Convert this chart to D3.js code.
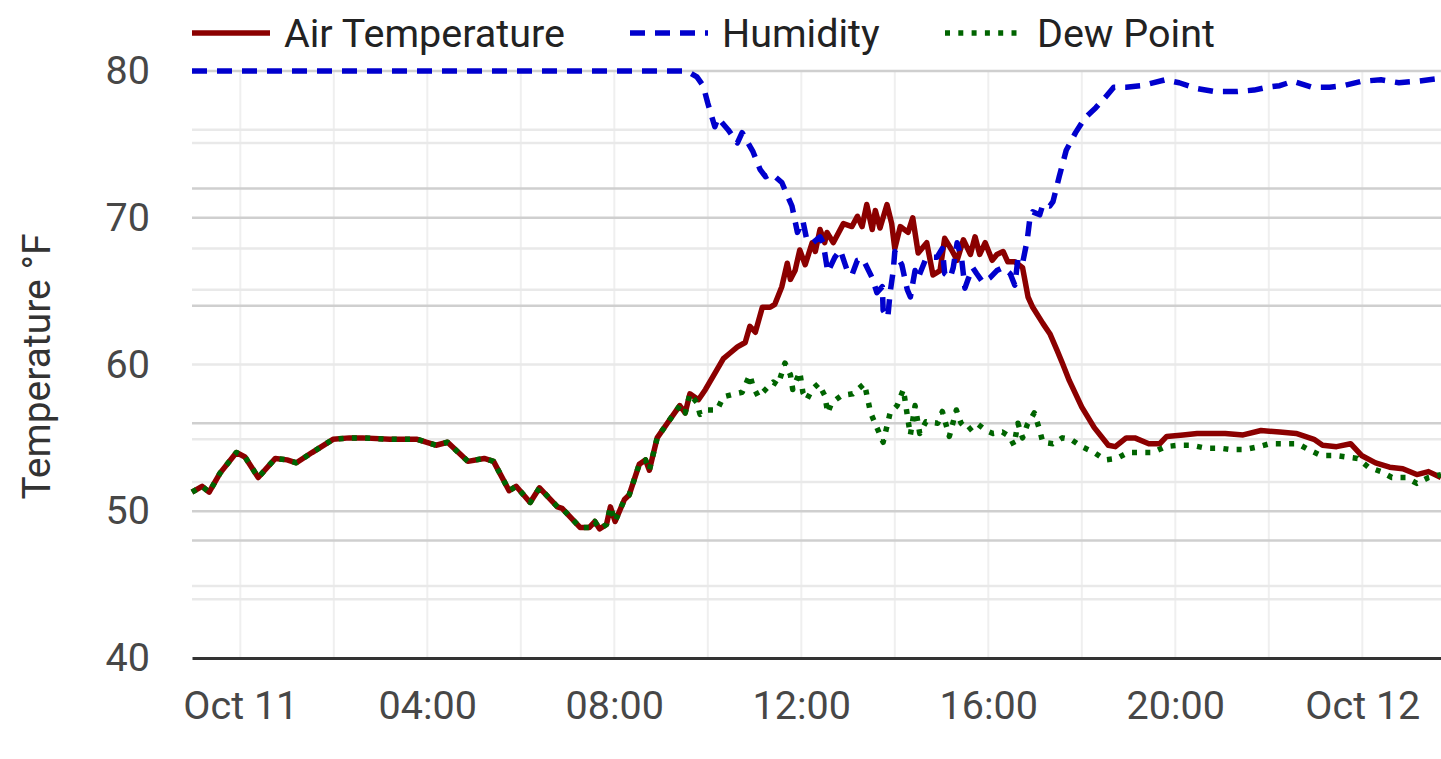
<!DOCTYPE html>
<html>
<head>
<meta charset="utf-8">
<script src="https://cdn.jsdelivr.net/npm/d3@7"></script>
<style>
  body { margin: 0; background: #fff; }
  svg { display: block; font-family: Roboto, "Open Sans", sans-serif; }
</style>
</head>
<body>
<svg id="chart" width="1441" height="759"></svg>
<script>
// minutes after Oct 11 00:00, value in °F
const airTemp = [[-62,51.3],[-49,51.7],[-40,51.3],[-26,52.6],[-5,54.0],[6,53.7],[23,52.3],[45,53.6],[60,53.5],[72,53.3],[92,54.0],[119,54.9],[140,55.0],[157,55.0],[192,54.9],[227,54.9],[251,54.5],[266,54.7],[292,53.4],[313,53.6],[325,53.4],[345,51.4],[354,51.7],[372,50.6],[384,51.6],[407,50.3],[413,50.2],[436,48.9],[448,48.9],[455,49.3],[461,48.8],[470,49.1],[475,50.3],[481,49.3],[493,50.8],[499,51.1],[512,53.2],[520,53.5],[525,52.8],[535,55.0],[548,56.0],[564,57.2],[571,56.7],[577,58.0],
  [588,57.6],[597,58.3],[609,59.4],[620,60.4],[629,60.8],[638,61.2],[648,61.5],[654,62.6],[661,62.2],[670,63.9],[680,63.9],[686,64.1],[695,65.3],[702,66.9],[706,65.8],[712,66.4],[718,67.8],[725,66.8],[734,68.3],[738,67.7],[744,69.2],[750,68.3],[753,69.0],[761,68.3],[774,69.6],[785,69.4],[792,70.1],[798,69.4],[804,70.9],[811,69.2],[815,70.5],[821,69.3],[830,70.9],[836,69.6],[840,67.9],[847,69.4],[857,69.0],[863,70.0],[870,67.6],[881,68.3],[889,66.1],[898,66.4],[904,68.6],[913,67.8],[920,67.1],[928,68.5],[937,67.5],[943,68.7],[949,67.5],[956,68.3],[965,67.1],[971,67.5],[979,67.7],[985,67.0],[994,67.0],[1004,66.6],[1011,64.6],[1017,63.9],[1030,62.8],[1039,62.1],[1048,61.0],[1055,60.1],[1064,58.9],[1080,57.1],[1096,55.7],[1114,54.5],[1123,54.4],[1137,55.0],[1148,55.0],[1166,54.6],[1180,54.6],[1189,55.1],[1210,55.2],[1228,55.3],[1246,55.3],[1264,55.3],[1287,55.2],[1310,55.5],[1334,55.4],[1355,55.3],[1378,54.9],[1389,54.5],[1407,54.4],[1425,54.6],[1439,53.8],[1457,53.3],[1475,53.0],[1492,52.9],[1510,52.5],[1525,52.7],[1541,52.3]];

const humidity = [[-62,80],[60,80],[180,80],[300,80],[420,80],[573,80],[586,79.6],[594,79.0],[600,77.8],[609,76.2],[613,76.8],[626,76.0],[638,75.1],[644,75.8],[658,74.5],[667,73.3],[674,72.8],[682,73.0],[695,72.4],[703,71.4],[708,70.8],[715,69.0],[722,69.8],[727,68.5],[735,68.3],[744,68.7],[748,68.3],[754,66.3],[763,67.3],[770,67.8],[779,66.4],[785,66.1],[792,67.1],[799,67.2],[811,65.9],[817,64.9],[824,65.3],[825,63.7],[831,63.2],[834,64.9],[838,66.4],[840,67.7],[849,66.8],[856,65.1],[860,64.6],[866,66.4],[870,65.9],[879,67.1],[885,67.3],[894,67.3],[901,67.9],[904,66.2],[911,65.9],[915,66.6],[920,68.3],[926,67.1],[930,65.2],[934,65.8],[940,66.6],[945,66.2],[953,65.6],[962,65.9],[971,66.4],[979,66.6],[988,66.2],[994,65.4],[998,67.2],[1004,66.9],[1010,68.5],[1013,69.8],[1017,70.4],[1026,70.2],[1030,70.9],[1039,70.8],[1043,71.1],[1051,72.8],[1060,74.6],[1072,75.8],[1084,76.8],[1098,77.5],[1110,78.2],[1121,78.9],[1137,78.9],[1157,79.0],[1187,79.4],[1205,79.2],[1228,78.8],[1251,78.6],[1280,78.6],[1301,78.7],[1319,78.9],[1334,79.0],[1351,79.3],[1375,78.9],[1398,78.9],[1416,79.0],[1439,79.3],[1464,79.4],[1487,79.2],[1510,79.3],[1541,79.5]];

const dewPoint = [[-62,51.3],[-49,51.7],[-40,51.3],[-26,52.6],[-5,54.0],[6,53.7],[23,52.3],[45,53.6],[60,53.5],[72,53.3],[92,54.0],[119,54.9],[140,55.0],[157,55.0],[192,54.9],[227,54.9],[251,54.5],[266,54.7],[292,53.4],[313,53.6],[325,53.4],[345,51.4],[354,51.7],[372,50.6],[384,51.6],[407,50.3],[413,50.2],[436,48.9],[448,48.9],[455,49.3],[461,48.8],[470,49.1],[475,50.3],[481,49.3],[493,50.8],[499,51.1],[512,53.2],[520,53.5],[525,52.8],[535,55.0],[548,56.0],[564,57.2],[571,56.7],[577,58.0],
  [586,57.4],[590,56.6],[600,56.9],[612,56.9],[620,57.8],[635,58.0],[644,58.1],[654,59.3],[658,58.5],[665,57.8],[676,58.4],[684,58.8],[690,58.6],[699,60.1],[706,59.3],[709,58.3],[718,59.5],[722,58.1],[727,57.6],[734,58.3],[742,58.7],[750,57.9],[754,56.7],[759,57.4],[772,57.9],[786,58.0],[801,58.7],[809,56.7],[825,54.7],[834,56.7],[843,57.2],[851,58.3],[857,56.2],[860,55.2],[866,57.2],[872,55.3],[880,56.1],[895,56.0],[901,56.8],[910,55.1],[919,56.9],[925,56.0],[934,55.5],[945,56.0],[957,55.5],[966,55.3],[978,55.4],[987,55.1],[993,54.5],[998,56.0],[1004,55.0],[1010,55.9],[1019,56.7],[1025,55.7],[1030,54.7],[1043,54.6],[1055,55.0],[1066,54.9],[1080,54.4],[1096,54.0],[1110,53.5],[1125,53.6],[1139,54.0],[1155,54.0],[1171,54.0],[1187,54.4],[1205,54.5],[1221,54.5],[1239,54.3],[1257,54.3],[1271,54.2],[1289,54.2],[1307,54.4],[1321,54.6],[1339,54.6],[1357,54.6],[1371,54.2],[1387,53.8],[1405,53.8],[1419,53.7],[1434,53.6],[1448,53.0],[1464,52.7],[1478,52.3],[1496,52.3],[1510,51.9],[1525,52.3],[1541,52.5]];

const yTicks = [40, 50, 60, 70, 80];
// extra horizontal grid lines (other hidden axes)
const gridDark = [80, 72, 70, 64, 56, 50, 48];
const gridLight = [76, 75.1, 67.9, 65.1, 60, 54.9, 52, 44.9, 44];

const seriesNames = ["Air Temperature", "Humidity", "Dew Point"];
const seriesColors = ["#8b0000", "#0000cd", "#006400"];
const seriesDash = [null, "15,10", "5,8.3"];

const day0 = new Date(2023, 9, 11).getTime();
const toDate = m => new Date(day0 + m * 60000);

const svg = d3.select("#chart");
const plotL = 192, plotR = 1441, plotT = 71, plotB = 658;
const fontSize = "39.5px";

const x = d3.scaleTime()
    .domain([toDate(-62), toDate(1541)])
    .range([plotL, plotR]);
const y = d3.scaleLinear()
    .domain([40, 80])
    .range([plotB, plotT]);

// vertical grid every 2 hours
svg.append("g").selectAll("line")
    .data(x.ticks(d3.timeHour.every(2)))
    .enter().append("line")
    .attr("x1", d => x(d)).attr("x2", d => x(d))
    .attr("y1", plotT).attr("y2", plotB)
    .style("stroke", "#efefef").style("stroke-width", 2);

svg.append("g").selectAll("line")
    .data(gridLight)
    .enter().append("line")
    .attr("x1", plotL).attr("x2", plotR)
    .attr("y1", d => y(d)).attr("y2", d => y(d))
    .style("stroke", "#e9e9e9").style("stroke-width", 2.5);

svg.append("g").selectAll("line")
    .data(gridDark)
    .enter().append("line")
    .attr("x1", plotL).attr("x2", plotR)
    .attr("y1", d => y(d)).attr("y2", d => y(d))
    .style("stroke", "#cfcfcf").style("stroke-width", 2.5);

// axes
const fmtDay = d3.timeFormat("%b %d"), fmtHour = d3.timeFormat("%H:%M");
const xAxis = svg.append("g")
    .attr("transform", `translate(0,${plotB})`)
    .call(d3.axisBottom(x)
        .ticks(d3.timeHour.every(4))
        .tickSize(0)
        .tickPadding(33)
        .tickFormat(d => d.getHours() === 0 ? fmtDay(d) : fmtHour(d)));
xAxis.select(".domain").style("stroke", "#333").style("stroke-width", 2.8);
xAxis.selectAll("text").style("font-size", fontSize).style("fill", "#474747").style("font-family", "Roboto");

const yAxis = svg.append("g")
    .attr("transform", `translate(${plotL},0)`)
    .call(d3.axisLeft(y).tickValues(yTicks).tickSize(0).tickPadding(42));
yAxis.select(".domain").remove();
yAxis.selectAll("text").style("font-size", fontSize).style("fill", "#474747").style("font-family", "Roboto");

svg.append("text")
    .attr("transform", `translate(50,${(plotT + plotB) / 2 + 2}) rotate(-90)`)
    .attr("text-anchor", "middle")
    .style("font-size", "39px")
    .style("fill", "#333")
    .text("Temperature °F");

// lines
const line = d3.line()
    .x(d => x(toDate(d[0])))
    .y(d => y(d[1]));

[airTemp, humidity, dewPoint].forEach((data, i) => {
    svg.append("path")
        .datum(data)
        .attr("d", line)
        .style("fill", "none")
        .style("stroke", seriesColors[i])
        .style("stroke-width", 5.5)
        .style("stroke-linejoin", "round")
        .style("stroke-dasharray", seriesDash[i]);
});

// legend
const legendX = [192, 630, 945];
const legend = svg.append("g").selectAll("g")
    .data(seriesNames)
    .enter().append("g")
    .attr("transform", (d, i) => `translate(${legendX[i]},33)`);
legend.append("line")
    .attr("x1", 0).attr("x2", 78)
    .style("stroke", (d, i) => seriesColors[i])
    .style("stroke-width", 5.5)
    .style("stroke-dasharray", (d, i) => seriesDash[i]);
legend.append("text")
    .attr("x", 92)
    .attr("y", 14)
    .style("font-size", fontSize)
    .style("fill", "#222")
    .text(d => d);
</script>
</body>
</html>
